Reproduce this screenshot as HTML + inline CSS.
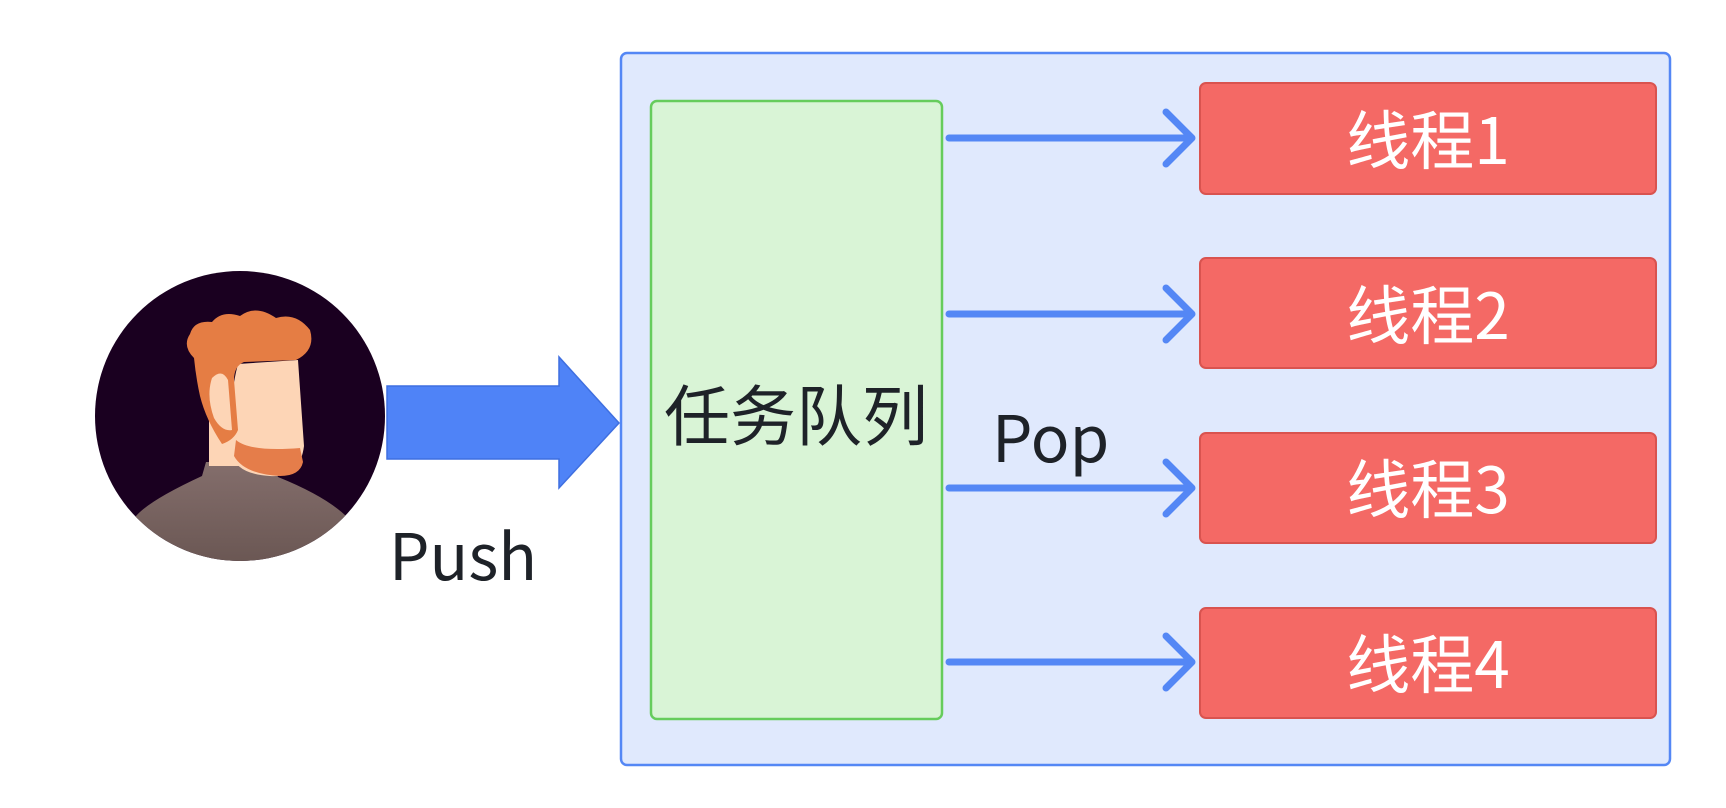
<!DOCTYPE html>
<html><head><meta charset="utf-8"><style>
html,body{margin:0;padding:0;background:#fff;}
body{width:1726px;height:808px;overflow:hidden;position:relative;font-family:"Noto Sans CJK SC","Liberation Sans",sans-serif;}
</style></head><body>
<svg width="1726" height="808" viewBox="0 0 1726 808" xmlns="http://www.w3.org/2000/svg" style="position:absolute;left:0;top:0">
<defs>
<clipPath id="cc"><circle cx="240" cy="416" r="145"/></clipPath>
<linearGradient id="sh" x1="0" y1="0" x2="0" y2="1"><stop offset="0" stop-color="#846e6c"/><stop offset="1" stop-color="#66534f"/></linearGradient>
</defs>
<rect x="621" y="53" width="1049" height="712" rx="6" fill="#e0e9fd" stroke="#5487f5" stroke-width="2.5"/>
<rect x="651" y="101" width="291" height="618" rx="6" fill="#d9f4d6" stroke="#66cc5c" stroke-width="2.5"/>
<g fill="#f46965" stroke="#d9534f" stroke-width="2">
<rect x="1200" y="83" width="456" height="111" rx="6"/>
<rect x="1200" y="258" width="456" height="110" rx="6"/>
<rect x="1200" y="433" width="456" height="110" rx="6"/>
<rect x="1200" y="608" width="456" height="110" rx="6"/>
</g>
<g stroke="#5487f5" stroke-width="7" stroke-linecap="round" stroke-linejoin="round" fill="none">
<path d="M949 138H1192M1166 112L1192 138L1166 164"/>
<path d="M949 314H1192M1166 288L1192 314L1166 340"/>
<path d="M949 488H1192M1166 462L1192 488L1166 514"/>
<path d="M949 662H1192M1166 636L1192 662L1166 688"/>
</g>
<polygon points="387,386 559,386 559,357 619,423 559,488 559,459 387,459" fill="#4f83f7" stroke="#3f6fe0" stroke-width="1.5"/>
<circle cx="240" cy="416" r="145" fill="#1a0020"/>
<g clip-path="url(#cc)">
<path d="M136 516 Q150 500 202 476 L206 462 L272 462 L278 477 Q325 496 346 516 L360 580 L120 580 Z" fill="url(#sh)"/>
<rect x="209" y="400" width="62" height="66" fill="#fdd5b6"/>
<path d="M238 364 L298 360 L304 446 Q300 478 270 476 Q236 474 232 454 Q228 400 238 364Z" fill="#fdd5b6"/>
<path d="M236 440 Q250 452 300 448 L303 462 Q300 476 280 476 Q244 474 234 456 Z" fill="#e57d4a"/>
<path d="M194 358 Q182 346 190 334 Q194 320 212 322 Q222 310 240 316 Q256 304 276 318 Q296 312 310 330 Q316 350 296 360 L244 362 Q234 366 234 380 L238 430 Q234 440 222 444 Q206 420 200 396 Q196 378 194 358Z" fill="#e57d44"/>
<path d="M212 378 Q222 368 228 380 L232 430 Q222 432 214 418 Q206 396 212 378Z" fill="#fdd5b6"/>
</g>
<g font-family="'Noto Sans CJK SC','Liberation Sans',sans-serif">
<text x="389" y="580" font-size="64" fill="#1e2228">Push</text>
<text x="992" y="462" font-size="64" fill="#1e2228">Pop</text>
<text x="796" y="440" font-size="66" fill="#1e2228" text-anchor="middle">任务队列</text>
<g fill="#fff" font-size="64" text-anchor="middle">
<text x="1428" y="164">线程1</text>
<text x="1428" y="339">线程2</text>
<text x="1428" y="513">线程3</text>
<text x="1428" y="688">线程4</text>
</g>
</g>
</svg>
</body></html>
